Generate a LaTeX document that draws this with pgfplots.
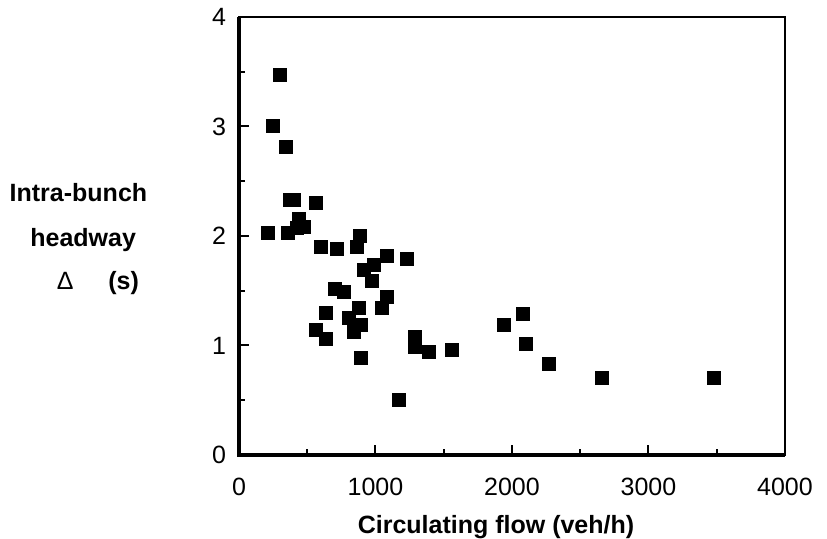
\documentclass[border=0pt]{standalone}
\usepackage{fontspec}
\setmainfont{Liberation Sans}
\usepackage{pgfplots}
\pgfplotsset{compat=1.18}
\begin{document}
\begin{tikzpicture}
\useasboundingbox (-119.5pt,-42pt) rectangle (294pt,227.5pt);
\begin{axis}[
  scale only axis, width=273pt, height=219pt,
  xmin=0, xmax=4000, ymin=0, ymax=4,
  xtick={0,1000,2000,3000,4000}, ytick={0,1,2,3,4},
  minor x tick num=1, minor y tick num=1,
  xtick pos=left, ytick pos=left,
  tick align=inside,
  major tick length=5pt, minor tick length=3pt,
  every tick/.style={black, line width=1pt},
  axis line style={line width=1pt},
  tick label style={font=\fontsize{12.5}{14}\selectfont},
  /pgf/number format/assume math mode=true,
  /pgf/number format/1000 sep={},
  xticklabel style={yshift=-8pt},
  yticklabel style={xshift=-3pt},
]
\addplot[only marks, mark=square*, mark size=3.25pt, black] coordinates {
(303,3.47) (250,3.01) (342,2.81) (371,2.33) (405,2.33) (566,2.30)
(211,2.03) (359,2.03) (437,2.16) (425,2.07) (478,2.08) (602,1.90)
(714,1.88) (884,2.00) (866,1.90) (1080,1.82) (1228,1.79) (914,1.69)
(990,1.74) (970,1.59) (704,1.52) (769,1.49) (1080,1.44) (1046,1.34)
(881,1.34) (638,1.30) (808,1.25) (896,1.19) (563,1.14) (845,1.12)
(638,1.06) (895,0.89) (1172,0.50) (1286,1.08) (1286,0.99) (1388,0.94)
(1563,0.96) (1940,1.19) (2082,1.29) (2101,1.01) (2268,0.83) (2659,0.70)
(3476,0.70)
};
\end{axis}
\draw[line width=1.6pt] (current axis.north west) -- (current axis.south west) -- (current axis.south east);
\node[anchor=base west, inner sep=0pt, font=\bfseries\fontsize{12.5}{14}\selectfont] at (-114.85pt,126.5pt) {Intra-bunch};
\node[anchor=base west, inner sep=0pt, font=\bfseries\fontsize{12.5}{14}\selectfont] at (-104.5pt,104pt) {headway};
\node[anchor=base west, inner sep=0pt, font=\fontsize{12.5}{14}\selectfont] at (-91.2pt,82.5pt) {Δ};
\node[anchor=base west, inner sep=0pt, font=\bfseries\fontsize{12.5}{14}\selectfont] at (-65.5pt,82.5pt) {(s)};
\node[anchor=base, inner sep=0pt, font=\bfseries\fontsize{12.5}{14}\selectfont] at (128.5pt,-39.5pt) {Circulating flow (veh/h)};
\end{tikzpicture}
\end{document}
